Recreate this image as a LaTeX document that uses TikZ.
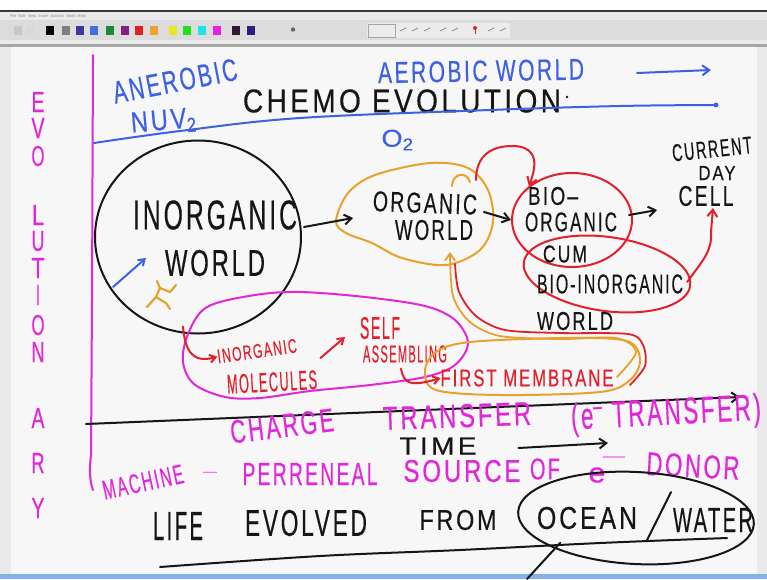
\documentclass[tikz,border=0pt]{standalone}
\usepackage{fontspec}
\usepackage{graphicx}
\setmainfont{Liberation Sans}
\newfontfamily\hand[LetterSpace=12, FakeBold=0.5]{Liberation Sans}
\usetikzlibrary{arrows.meta,shapes.geometric}

\definecolor{inkblue}{RGB}{62,96,226}
\definecolor{inkmag}{RGB}{226,38,218}
\definecolor{inkred}{RGB}{226,32,44}
\definecolor{inkorange}{RGB}{232,162,44}
\definecolor{ink}{RGB}{22,22,22}
\definecolor{canvas}{RGB}{247,247,247}
\definecolor{barbg}{RGB}{220,220,220}
\definecolor{menubg}{RGB}{234,234,234}
\definecolor{sidebg}{RGB}{234,234,234}
\definecolor{statusbar}{RGB}{132,176,236}

% handwritten word squeezed into a box of given width and cap height
\newcommand{\hw}[3]{\resizebox{#1pt}{#2pt}{\hand #3}}

\tikzset{
  word/.style={inner sep=0pt, outer sep=0pt},
  pen/.style={line width=2pt, line cap=round, line join=round},
  arr/.style={pen, -{Straight Barb[length=7pt,width=10pt]}},
  loopline/.style={line width=1.8pt, line cap=round, line join=round},
  swatch/.style={minimum width=8pt, minimum height=9pt, inner sep=0pt},
}

\begin{document}
\begin{tikzpicture}[x=1pt, y=-1pt]
\useasboundingbox (0,0) rectangle (767,579);

% ---------- window chrome ----------
\fill[canvas] (0,0) rectangle (767,579);
\fill[white] (0,0) rectangle (767,10);
\fill[ink!85] (0,10) rectangle (767,12);
\fill[menubg] (0,12) rectangle (767,20);
\node[word, anchor=west, text=black!45, font=\fontsize{4}{4}\selectfont] (menu) at (10,16)
  {File\ \ Edit\ \ View\ \ Insert\ \ Actions\ \ Tools\ \ Help};
\fill[barbg] (0,20) rectangle (767,40);
\fill[menubg] (0,40) rectangle (767,44);
\fill[black!35] (0,44) rectangle (767,46.5);
\fill[sidebg] (0,46.5) rectangle (11,574);
\fill[sidebg] (757,46.5) rectangle (767,574);
\fill[statusbar] (0,574) rectangle (767,579);

\foreach \xx/\cc [count=\i] in {50/black, 66/black!50, 80/{rgb,255:red,58;green,58;blue,150},
    94/{rgb,255:red,64;green,112;blue,224}, 110/{rgb,255:red,30;green,138;blue,48},
    125/{rgb,255:red,128;green,32;blue,128}, 139/{rgb,255:red,224;green,32;blue,32},
    154/{rgb,255:red,240;green,160;blue,48}, 173/{rgb,255:red,232;green,232;blue,32},
    187/{rgb,255:red,32;green,224;blue,32}, 202/{rgb,255:red,32;green,228;blue,228},
    217/{rgb,255:red,232;green,32;blue,224}, 236/{rgb,255:red,48;green,24;blue,48},
    251/{rgb,255:red,42;green,32;blue,128}}
  \node[swatch, fill=\cc] (sw\i) at (\xx,30.5) {};
\fill[black!22] (14,26) rectangle (22,35);
\fill[black!15] (26,26) rectangle (34,35);
\fill[black!60] (293,29.5) circle (2.2);
\fill[black!8] (367,23) rectangle (510,38);
\draw[black!35, line width=0.6pt] (368,24) rectangle (395,37);
\foreach \xx in {400,412,424,440,452,488,500}
  \draw[black!45, line width=0.8pt] (\xx,31) -- (\xx+6,28);
\fill[inkred] (475,28) circle (2);
\draw[inkred, line width=0.8pt] (475,28) -- (475,34);

% ---------- margin ----------
\draw[pen, inkmag] (93,55) -- (92,300) -- (91,455) .. controls (89,470) and (90,482) .. (93,490);
\foreach \ch/\yy/\ww [count=\i] in {E/102/13,V/128/13,O/156/13,L/215/12,U/241/13,T/268/13,I/295/4,O/325/13,N/352/13,A/418/13,R/463/13,Y/508/13}
  \node[word, text=inkmag] (evo\i) at (38,\yy) {\hw{\ww}{20}{\ch}};

% ---------- header ----------
\node[word, text=inkblue, rotate=11] (anaerobic) at (175,81) {\hw{126}{22}{ANEROBIC}};
\node[word, text=inkblue, rotate=1] (aerobic) at (481,71) {\hw{206}{21}{AEROBIC WORLD}};
\coordinate (aerotail) at (637,73);
\coordinate (aerohead) at (711,70);
\draw[arr, inkblue] (aerotail) -- (aerohead);
\node[word, text=inkblue, rotate=5] (nuv) at (164,122) {\hw{66}{20}{NUV\textsubscript{2}}};
\node[word, text=ink] (chemo) at (402,101) {\hw{318}{23}{CHEMO EVOLUTION}};
\fill[ink] (567,97) circle (1.3);
\coordinate (band0) at (94,143);
\coordinate (band1) at (716,105);
\draw[pen, inkblue] plot[smooth, tension=0.6] coordinates {(band0) (180,131) (300,118) (490,110) (620,106) (band1)};
\fill[inkblue] (band1) circle (2.4);
\node[word, text=inkblue] (otwo) at (398,140) {\hw{33}{17}{O\textsubscript{2}}};

% ---------- inorganic world ----------
\node[draw=ink, line width=2pt, ellipse, minimum width=206pt, minimum height=193pt, inner sep=0pt] (inorg) at (198,237) {};
\node[word, text=ink] (inorgA) at (215,215) {\hw{164}{29}{INORGANIC}};
\node[word, text=ink] (inorgB) at (215,263) {\hw{100}{26}{WORLD}};
\coordinate (bluetail) at (113,287);
\coordinate (bluehead) at (146,258);
\draw[pen, inkblue, -{Straight Barb[length=6pt,width=8pt]}] (bluetail) -- (bluehead);
% small orange scribble
\draw[pen, inkorange, line width=2.2pt] (147,307) -- (156,297) -- (166,303) (156,297) -- (160,288) -- (170,292) -- (176,285) (160,288) -- (157,281) (166,303) -- (170,309);

% ---------- organic world ----------
\coordinate (orgL) at (336,221);
\draw[pen, inkorange] plot[smooth cycle, tension=0.55] coordinates
  {(orgL) (348,193) (375,175) (430,163) (468,168) (488,190) (493,222) (480,250) (446,265) (402,258) (372,243) (346,233)};
\draw[pen, inkorange] (452,186) .. controls (452,174) and (466,170) .. (470,182);
\node[word, text=ink, rotate=-2] (orgA) at (425,203) {\hw{104}{20}{ORGANIC}};
\node[word, text=ink] (orgB) at (434,230) {\hw{78}{20}{WORLD}};
\draw[arr, ink] (inorg.east) ++(2,-10) coordinate (inorgR) -- (353,218);
\coordinate (orgR) at (484,212);

% ---------- bio worlds ----------
\node[draw=inkred, line width=2pt, ellipse, minimum width=120pt, minimum height=94pt, inner sep=0pt] (bioorg) at (572,220) {};
\node[draw=inkred, line width=2pt, ellipse, minimum width=168pt, minimum height=74pt, inner sep=0pt, rotate=-8] (bioinorg) at (607,274) {};
\draw[arr, ink] (orgR) -- (bioorg.west);
\node[word, text=ink] (bioA) at (553,196) {\hw{50}{18}{BIO–}};
\node[word, text=ink] (bioB) at (571,222) {\hw{92}{19}{ORGANIC}};
\node[word, text=ink] (cum) at (565,254) {\hw{44}{17}{CUM}};
\node[word, text=ink] (bioC) at (610,284) {\hw{146}{19}{BIO-INORGANIC}};
\node[word, text=ink] (bioD) at (575,321) {\hw{76}{18}{WORLD}};

\node[word, text=ink, rotate=6] (curA) at (712,149) {\hw{80}{17}{CURRENT}};
\node[word, text=ink] (curB) at (717,173) {\hw{37}{14}{DAY}};
\node[word, text=ink] (curC) at (706,196) {\hw{55}{20}{CELL}};
\draw[arr, ink] (bioorg.east) ++(-4,-5) -- (657,210);
\draw[pen, inkred, -{Straight Barb[length=7pt,width=10pt]}] (bioinorg.east) ++(-4,-4)
  .. controls (705,258) and (712,250) .. (711,232) -- (713,208);
\draw[pen, inkred, -{Straight Barb[length=7pt,width=10pt]}] (476,180)
  .. controls (476,155) and (492,146) .. (512,146) .. controls (530,146) and (541,155) .. (bioorg.north west);

% ---------- self assembly ----------
\draw[pen, inkmag] plot[smooth cycle, tension=0.55] coordinates
  {(207,307) (255,295) (300,292) (365,297) (425,306) (455,320) (468,343) (455,365) (425,377) (370,385) (310,391) (260,398) (225,397) (194,384) (183,362) (188,334)};
\node[word, text=inkred, rotate=8] (molA) at (257,351) {\hw{80}{14}{INORGANIC}};
\node[word, text=inkred, rotate=3] (molB) at (272,382) {\hw{90}{19}{MOLECULES}};
\node[word, text=inkred] (selfA) at (380,328) {\hw{40}{22}{SELF}};
\node[word, text=inkred] (selfB) at (405,354) {\hw{84}{17}{ASSEMBLING}};
\draw[pen, inkred, -{Straight Barb[length=6pt,width=8pt]}] (inorg.south) ++(-15,-8)
  .. controls (185,350) and (192,364) .. (molA.west);
\draw[pen, inkred, -{Straight Barb[length=6pt,width=8pt]}] (molB.north east) ++(4,-12) -- (345,337);

\coordinate (memL) at (425,371);
\draw[pen, inkorange] plot[smooth cycle, tension=0.55] coordinates
  {(memL) (436,352) (470,342) (567,338) (627,341) (640,360) (630,380) (600,392) (500,395) (436,390)};
\node[word, text=inkred] (membrane) at (527,378) {\hw{173}{17}{FIRST MEMBRANE}};
\draw[pen, inkred, -{Straight Barb[length=6pt,width=8pt]}] (selfB.south) ++(-4,6)
  .. controls (404,384) and (410,387) .. (membrane.west);

% loops from the membrane back to the organic world
\draw[loopline, inkred] plot[smooth, tension=0.5] coordinates
  {(630,385) (645,366) (643,345) (628,334) (560,333) (505,330) (476,316) (459,292) (455,264)};
\draw[loopline, inkorange, -{Straight Barb[length=7pt,width=10pt]}] plot[smooth, tension=0.5] coordinates
  {(617,377) (636,352) (616,338) (560,339) (500,336) (470,322) (453,296) (450,252)};

% ---------- time line ----------
\coordinate (t0) at (86,424);
\coordinate (t1) at (740,397);
\draw[arr, ink] (t0) -- (t1);
\node[word, text=inkmag, rotate=7] (charge) at (282,426) {\hw{104}{23}{CHARGE}};
\node[word, text=inkmag, rotate=2] (transfer) at (457,416) {\hw{148}{23}{TRANSFER}};
\node[word, text=inkmag, rotate=3] (etrans) at (666,415) {\hw{190}{27}{(e\textsuperscript{–} TRANSFER)}};
\node[word, text=ink] (time) at (438,446) {\hw{77}{17}{TIME}};
\draw[arr, ink] (time.east) ++(42,2) -- (608,443);

% ---------- electron donor ----------
\node[word, text=inkmag, rotate=12] (machine) at (143,482) {\hw{82}{19}{MACHINE}};
\node[word, text=inkmag] (dash) at (210,473) {\hw{14}{2}{–}};
\node[word, text=inkmag] (perr) at (310,474) {\hw{135}{22}{PERRENEAL}};
\node[word, text=inkmag] (source) at (462,471) {\hw{117}{22}{SOURCE}};
\node[word, text=inkmag] (of) at (545,469) {\hw{30}{21}{OF}};
\node[word, text=inkmag] (edon) at (597,475) {\hw{17}{15}{e}};
\node[word, text=inkmag] (eminus) at (614,458) {\hw{22}{2.5}{–}};
\node[word, text=inkmag, rotate=-3] (donor) at (693,466) {\hw{93}{23}{DONOR}};

% ---------- origin ----------
\node[word, text=ink] (life) at (178,526) {\hw{50}{28}{LIFE}};
\node[word, text=ink] (evolved) at (306,523) {\hw{122}{26}{EVOLVED}};
\node[word, text=ink] (from) at (458,520) {\hw{77}{20}{FROM}};
\node[word, text=ink] (ocean) at (587,518) {\hw{100}{22}{OCEAN}};
\node[word, text=ink] (water) at (713,520) {\hw{80}{24}{WATER}};
\node[draw=ink, line width=2pt, ellipse, minimum width=236pt, minimum height=92pt, inner sep=0pt, rotate=-3] (sea) at (636,518) {};
\draw[pen, ink] (water.north west) ++(-2,-16) -- (647,540);
\draw[pen, ink] plot[smooth, tension=0.6] coordinates {(160,567) (320,556) (460,550) (600,543) (727,538)};
\draw[pen, ink] (sea.south west) ++(10,-4) coordinate (seafoot) -- (527,579);
\end{tikzpicture}
\end{document}
